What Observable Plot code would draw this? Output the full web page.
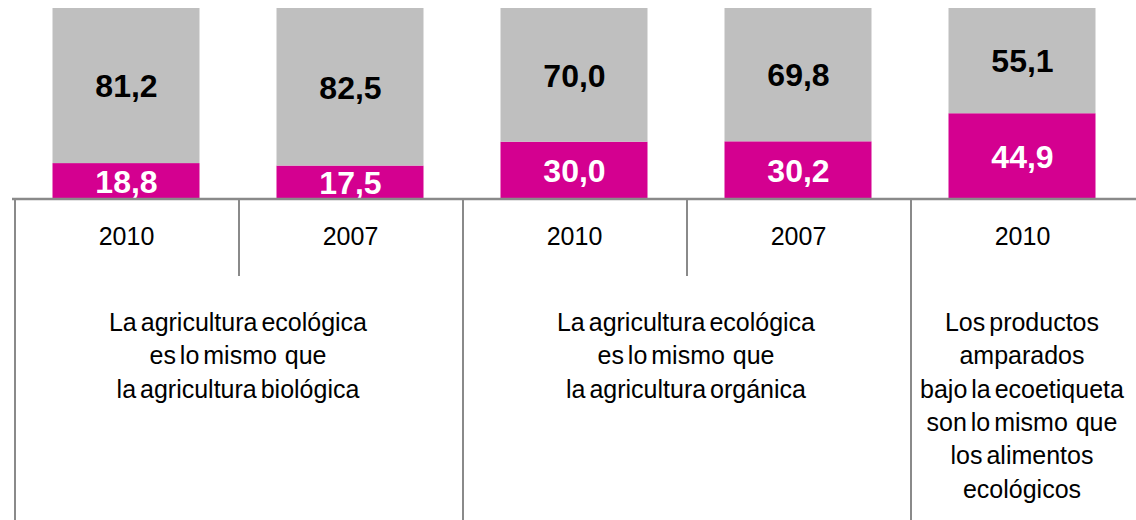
<!DOCTYPE html>
<html>
<head>
<meta charset="utf-8">
<script src="https://cdn.jsdelivr.net/npm/d3@7"></script>
<script src="https://cdn.jsdelivr.net/npm/@observablehq/plot@0.6"></script>
<style>
  html, body { margin: 0; padding: 0; background: #ffffff; }
  #chart svg { display: block; }
</style>
</head>
<body>
<div id="chart"></div>
<script>
// ---- data ----
const columnIds = ["c1", "c2", "c3", "c4", "c5"];
const years = ["2010", "2007", "2010", "2007", "2010"];
const yesValues = [18.8, 17.5, 30.0, 30.2, 44.9];
const noValues = [81.2, 82.5, 70.0, 69.8, 55.1];
const seriesNames = ["sí", "no"];
const groupColumns = [["c1", "c2"], ["c3", "c4"], ["c5"]];
const groupLabels = [
  ["La agricultura ecológica", "es lo mismo  que", "la agricultura biológica"],
  ["La agricultura ecológica", "es lo mismo  que", "la agricultura orgánica"],
  ["Los productos", "amparados", "bajo la ecoetiqueta", "son lo mismo  que", "los alimentos", "ecológicos"]
];

// ---- styles ----
const MAGENTA = "#d40090";
const GRAY = "#bfbfbf";
const LINE = "#8a8a8a";
const FONT = "'Liberation Sans', Arial, sans-serif";

const rows = [];
columnIds.forEach((id, i) => {
  rows.push({id, series: seriesNames[0], value: yesValues[i]});
  rows.push({id, series: seriesNames[1], value: noValues[i]});
});
const cols = columnIds.map((id, i) => ({id, year: years[i]}));
const fmt = v => v.toFixed(1).replace(".", ",");

const chart = Plot.plot({
  width: 1136,
  height: 520,
  marginLeft: 12,
  marginRight: 0,
  marginTop: 8,
  marginBottom: 321,
  style: {fontFamily: FONT, background: "#ffffff"},
  x: {domain: columnIds, padding: 0, axis: null},
  y: {domain: [0, 100], axis: null},
  color: {domain: seriesNames, range: [MAGENTA, GRAY]},
  marks: [
    Plot.barY(rows, {x: "id", y: "value", fill: "series", insetLeft: 38.5, insetRight: 38.5}),
    Plot.text(rows, Plot.stackY({
      x: "id", y: "value",
      text: d => d.series === seriesNames[0] ? fmt(d.value) : "",
      fill: "white", fontSize: 32, fontWeight: "bold", letterSpacing: "-1px", dy: 1
    })),
    Plot.text(rows, Plot.stackY({
      x: "id", y: "value",
      text: d => d.series === seriesNames[1] ? fmt(d.value) : "",
      fill: "black", fontSize: 32, fontWeight: "bold", letterSpacing: "-1px", dy: 1
    })),
    Plot.ruleY([0], {stroke: LINE, strokeWidth: 2.5, dy: -0.5}),
    Plot.text(cols, {x: "id", text: "year", frameAnchor: "bottom", dy: 45, fontSize: 25, fill: "black", letterSpacing: "1.2px"})
  ]
});

document.getElementById("chart").appendChild(chart);

// ---- table grid and group labels, positioned with the plot's own scales ----
const sx = chart.scale("x");
const sy = chart.scale("y");
const bw = sx.bandwidth;
const y0 = sy.apply(0);
const svg = d3.select(chart);
const g = svg.append("g");

const groupStarts = new Set(groupColumns.map(gc => gc[0]));
columnIds.forEach(id => {
  const x = sx.apply(id) + 1;
  const full = groupStarts.has(id);
  g.append("line")
    .attr("x1", x).attr("x2", x)
    .attr("y1", y0 - 1).attr("y2", full ? 520 : y0 + 77)
    .attr("stroke", LINE).attr("stroke-width", 2);
});

groupColumns.forEach((gc, k) => {
  const cx = (sx.apply(gc[0]) + sx.apply(gc[gc.length - 1]) + bw) / 2;
  const t = g.append("text")
    .attr("text-anchor", "middle")
    .attr("font-family", FONT)
    .attr("font-size", 25)
    .attr("word-spacing", "-3px")
    .style("white-space", "pre")
    .attr("fill", "black");
  groupLabels[k].forEach((line, j) => {
    t.append("tspan")
      .attr("x", cx)
      .attr("y", y0 + 132 + j * 33.3)
      .text(line);
  });
});
</script>
</body>
</html>
